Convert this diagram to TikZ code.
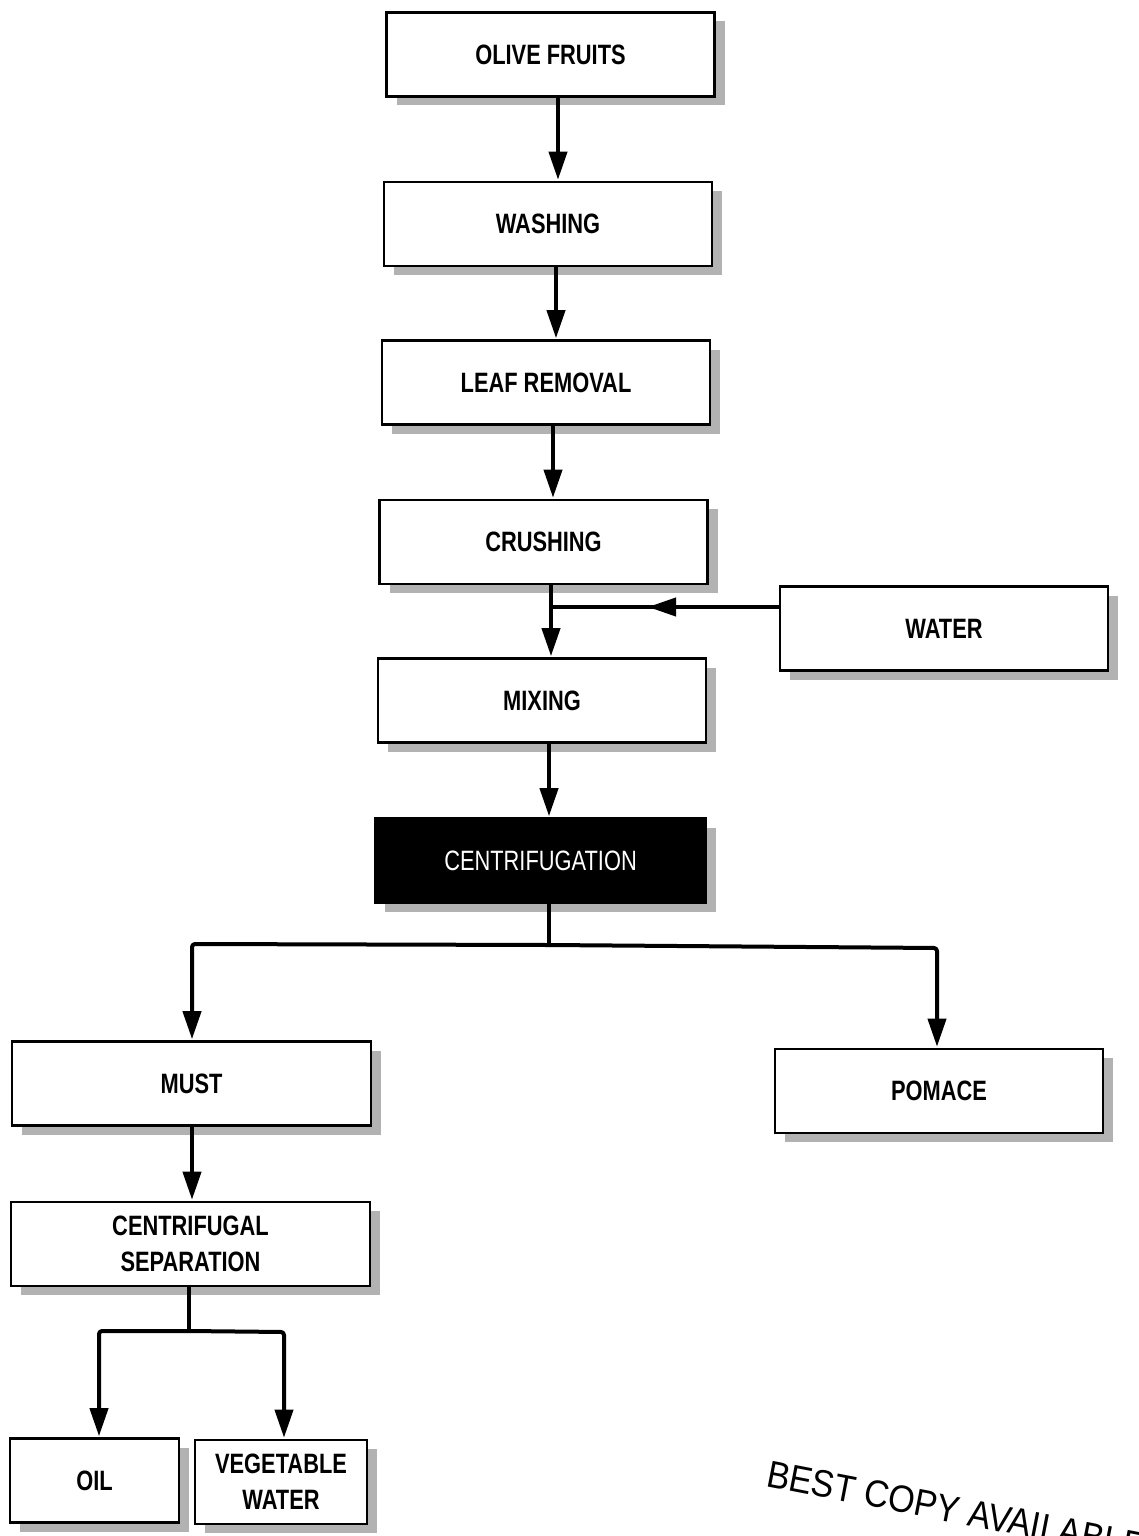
\documentclass[tikz,border=0pt]{standalone}
\usepackage{fontspec}
\setmainfont{Liberation Sans}[FakeStretch=0.78]
\newfontfamily\plainsans{Liberation Sans}[FakeStretch=0.9]
\usetikzlibrary{arrows.meta,shadows}

\tikzset{
  procbox/.style={draw=black, line width=2.6pt, fill=white,
    minimum width=#1, minimum height=84pt, inner sep=0pt,
    align=center, font=\fontsize{28}{36}\selectfont\bfseries,
    drop shadow={shadow xshift=10pt, shadow yshift=-9pt, fill=gray!60, opacity=1}},
  procbox/.default=328pt,
  darkbox/.style={procbox=#1, fill=black, text=white,
    font=\fontsize{28}{36}\selectfont},
  flow/.style={line width=4pt, line join=round},
  arr/.style={flow, -{Triangle[length=28pt,width=18pt]}, shorten >=1pt},
}

\begin{document}
\begin{tikzpicture}[x=1pt,y=-1pt]
  \useasboundingbox (0,0) rectangle (1138,1536);
  \clip (0,0) rectangle (1138,1536);

  % main line of process steps
  \node[procbox]      (olive)   at (550.5,54.5)  {OLIVE FRUITS};
  \node[procbox]      (washing) at (548,224)     {WASHING};
  \node[procbox]      (leaf)    at (546,382.5)   {LEAF REMOVAL};
  \node[procbox]      (crush)   at (543.5,542)   {CRUSHING};
  \node[procbox]      (water)   at (944,628.5)   {WATER};
  \node[procbox]      (mixing)  at (542,700.5)   {MIXING};
  \node[darkbox=331pt](centri)  at (540.5,860.5) {CENTRIFUGATION};

  % products of centrifugation
  \node[procbox=359pt] (must)   at (191.5,1083.5) {MUST};
  \node[procbox]       (pomace) at (939,1091)     {POMACE};
  \node[procbox=359pt] (sep)    at (190.5,1244)   {CENTRIFUGAL\\SEPARATION};
  \node[procbox=169pt] (oil)    at (94.5,1480.5)  {OIL};
  \node[procbox=172pt] (veg)    at (281,1482)     {VEGETABLE\\WATER};

  % straight downward steps
  \draw[arr] ([xshift=7.5pt]olive.south)  -- ([xshift=7.5pt]olive.south |- washing.north);
  \draw[arr] ([xshift=8pt]washing.south)  -- ([xshift=8pt]washing.south |- leaf.north);
  \draw[arr] ([xshift=7pt]leaf.south)     -- ([xshift=7pt]leaf.south |- crush.north);

  % water joins the crushed paste
  \coordinate (join)  at (551,607);
  \coordinate (wmid)  at (648,607);
  \draw[arr] ([xshift=7.5pt]crush.south) -- ([xshift=7.5pt]crush.south |- mixing.north);
  \draw[flow] (water.west |- join) -- (join);
  \draw[arr, shorten >=0pt] (water.west |- join) -- (wmid);

  \draw[arr] ([xshift=7pt]mixing.south) -- ([xshift=7pt]mixing.south |- centri.north);

  % split after centrifugation
  \coordinate (c0) at (549,945);
  \coordinate (cl) at (192,944);
  \coordinate (cr) at (937,948);
  \draw[flow] ([xshift=8.5pt]centri.south) -- (c0);
  \draw[arr, rounded corners=3pt] (c0) -- (cl) -- (cl |- must.north);
  \draw[arr, rounded corners=3pt] (c0) -- (cr) -- (cr |- pomace.north);

  \draw[arr] ([xshift=0.5pt]must.south) -- ([xshift=0.5pt]must.south |- sep.north);

  % split after centrifugal separation
  \coordinate (s0) at (189,1331);
  \coordinate (sl) at (99,1331);
  \coordinate (sr) at (284,1332);
  \draw[flow] ([xshift=-1.5pt]sep.south) -- (s0);
  \draw[arr, rounded corners=3pt] (s0) -- (sl) -- (sl |- oil.north);
  \draw[arr, rounded corners=3pt] (s0) -- (sr) -- (sr |- veg.north);

  % stamp in the lower right corner
  \node[anchor=base west, rotate=-11, inner sep=0pt,
        font=\plainsans\fontsize{38}{38}\selectfont] (stamp) at (765,1486)
        {BEST COPY AVAILABLE};
\end{tikzpicture}
\end{document}
